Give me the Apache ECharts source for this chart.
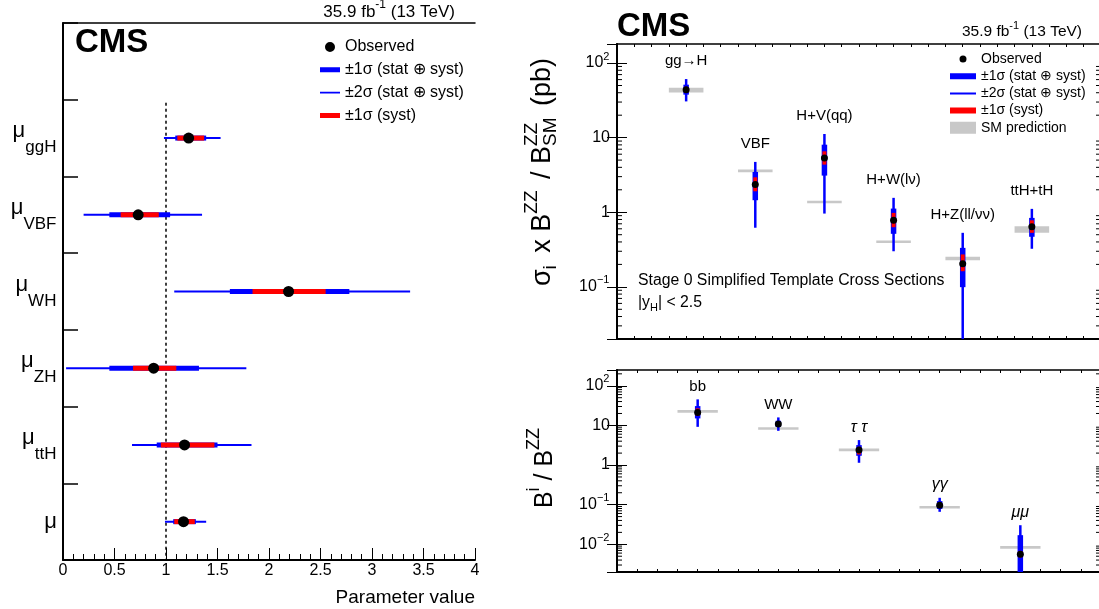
<!DOCTYPE html>
<html lang="en">
<head>
  <meta charset="utf-8">
  <title>CMS H to ZZ to 4l: signal strengths and cross sections</title>
  <script src="https://cdn.jsdelivr.net/npm/echarts@6/dist/echarts.min.js"></script>
  <style>
    html, body { margin: 0; padding: 0; background: #fff; }
    #main { width: 1099px; height: 609px; }
  </style>
</head>
<body>
<div id="main"></div>
<script>
  // ---- left panel: signal strength modifiers (row order top to bottom)
  var muLabels = ['μ_ggH', 'μ_VBF', 'μ_WH', 'μ_ZH', 'μ_ttH', 'μ'];
  var muBest   = [1.22, 0.73, 2.19, 0.88, 1.18, 1.17];
  var mu2Lo    = [0.98, 0.20, 1.08, 0.03, 0.67, 0.99];
  var mu2Hi    = [1.53, 1.35, 3.37, 1.78, 1.83, 1.39];
  var mu1Lo    = [1.09, 0.45, 1.62, 0.45, 0.91, 1.07];
  var mu1Hi    = [1.39, 1.04, 2.78, 1.32, 1.50, 1.29];
  var muSysLo  = [1.11, 0.56, 1.84, 0.68, 0.95, 1.08];
  var muSysHi  = [1.37, 0.93, 2.55, 1.10, 1.47, 1.28];

  // ---- top right: stage 0 STXS, sigma x B(ZZ)/B_SM(ZZ) in pb
  var stxsNames = ['gg→H', 'VBF', 'H+V(qq)', 'H+W(lν)', 'H+Z(ll/νν)', 'ttH+tH'];
  var stxsObs   = [44, 2.35, 5.35, 0.78, 0.204, 0.638];
  var stxs2Lo   = [30.6, 0.62, 0.96, 0.30, 0.005, 0.324];
  var stxs2Hi   = [61, 4.73, 11.2, 1.56, 0.53, 1.11];
  var stxs1Lo   = [37.7, 1.45, 3.1, 0.514, 0.099, 0.469];
  var stxs1Hi   = [51.3, 3.47, 8.05, 1.12, 0.333, 0.84];
  var stxsSysLo = [40, 1.91, 4.35, 0.63, 0.162, 0.53];
  var stxsSysHi = [48, 2.94, 6.56, 0.98, 0.272, 0.78];
  var stxsSmLo  = [40.4, 3.44, 1.32, 0.389, 0.228, 0.53];
  var stxsSmHi  = [46.7, 3.73, 1.42, 0.418, 0.253, 0.65];

  // ---- bottom right: branching fraction ratios B^i / B^ZZ
  var brNames = ['bb', 'WW', 'τ τ', 'γγ', 'μμ'];
  var brObs   = [21.3, 10.8, 2.38, 0.097, 0.0056];
  var br2Lo   = [9.2, 7.3, 1.14, 0.066, 0.0005];
  var br2Hi   = [45.4, 15.9, 4.26, 0.149, 0.0303];
  var br1Lo   = [15, 9.2, 1.71, 0.078, 0.0005];
  var br1Hi   = [30.7, 13.1, 3.18, 0.123, 0.017];
  var brSysLo = [17.5, 9.8, 1.85, 0.088, 0.0047];
  var brSysHi = [26.9, 11.9, 2.88, 0.107, 0.0068];
  var brSmLo  = [20.8, 7.9, 2.24, 0.080, 0.0077];
  var brSmHi  = [24.3, 8.9, 2.62, 0.093, 0.009];

  var FONT = '"Liberation Sans", Arial, Helvetica, sans-serif';
  var BLUE = '#0000ff', RED = '#ff0000', GREY = '#c8c8c8';
  var N_OBS = 'Observed', N_1S = '±1σ (stat ⊕ syst)', N_2S = '±2σ (stat ⊕ syst)',
      N_SYS = '±1σ (syst)', N_SM = 'SM prediction';

  // ---- little latex-like text runs (sub/superscripts) for graphic texts
  var mctx = document.createElement('canvas').getContext('2d');
  function measure(s, size, weight) {
    mctx.font = (weight || 'normal') + ' ' + size + 'px ' + FONT;
    return mctx.measureText(s).width;
  }
  function piece(s, x, y, size, weight) {
    return { type: 'text', x: x, y: y, silent: true,
      style: { text: s, fontSize: size, fontFamily: FONT, fontWeight: weight || 'normal',
               fill: '#000', align: 'left', verticalAlign: 'middle' } };
  }
  // parts: plain strings, numbers (extra gap in px) or {sup, sub}
  function latex(parts, size, x, y, opt) {
    opt = opt || {};
    var kids = [], cx = 0, small = Math.round(size * 0.7);
    parts.forEach(function (p) {
      if (typeof p === 'number') { cx += p; return; }
      if (typeof p === 'string') {
        kids.push(piece(p, cx, 0, size, opt.weight));
        cx += measure(p, size, opt.weight);
        return;
      }
      var w = 0;
      if (p.sup) { kids.push(piece(p.sup, cx, -size * 0.42, small)); w = Math.max(w, measure(p.sup, small)); }
      if (p.sub) { kids.push(piece(p.sub, cx, size * 0.3, small)); w = Math.max(w, measure(p.sub, small)); }
      cx += w;
    });
    var shift = opt.align === 'center' ? -cx / 2 : (opt.align === 'right' ? -cx : 0);
    kids.forEach(function (k) { k.x += shift; });
    return { type: 'group', x: x, y: y, rotation: opt.rotation || 0, silent: true, children: kids };
  }

  // ---- render helpers
  function hBar(h, color) {
    return function (params, api) {
      var a = api.coord([api.value(0), api.value(2)]);
      var b = api.coord([api.value(1), api.value(2)]);
      return { type: 'rect', shape: { x: a[0], y: a[1] - h / 2, width: b[0] - a[0], height: h },
               style: { fill: color } };
    };
  }
  function vBar(w, color) {
    return function (params, api) {
      var cs = params.coordSys;
      var top = api.coord([api.value(0), api.value(2)]);
      var bot = api.coord([api.value(0), api.value(1)]);
      var y1 = Math.max(top[1], cs.y), y2 = Math.min(bot[1], cs.y + cs.height);
      return { type: 'rect', shape: { x: top[0] - w / 2, y: y1, width: w, height: y2 - y1 },
               style: { fill: color } };
    };
  }
  function smBand(params, api) {
    var x = api.value(0);
    var a = api.coord([x - 0.25, api.value(2)]);
    var b = api.coord([x + 0.25, api.value(1)]);
    var h = Math.max(b[1] - a[1], 2.5), cy = (a[1] + b[1]) / 2;
    return { type: 'rect', shape: { x: a[0], y: cy - h / 2, width: b[0] - a[0], height: h },
             style: { fill: GREY } };
  }
  function procLabel(names, lift) {
    return function (params, api) {
      var p = api.coord([api.value(0), api.value(1)]);
      var t = names[params.dataIndex];
      var greek = /[τγμ]/.test(t);
      return { type: 'text', x: p[0], y: p[1] - lift,
        style: { text: t, fontSize: greek ? 16 : 15, fontFamily: FONT, fill: '#000',
                 fontStyle: greek ? 'italic' : 'normal',
                 align: 'center', verticalAlign: 'middle' } };
    };
  }
  function minorTick(params, api) {
    var cs = params.coordSys;
    var y = api.coord([0, api.value(1)])[1];
    if (y < cs.y || y > cs.y + cs.height) return null;
    var st = { stroke: '#000', lineWidth: 1 };
    return { type: 'group', children: [
      { type: 'line', shape: { x1: cs.x, y1: y, x2: cs.x + 5, y2: y }, style: st },
      { type: 'line', shape: { x1: cs.x + cs.width - 5, y1: y, x2: cs.x + cs.width, y2: y }, style: st }
    ] };
  }
  function refLine(params, api) {
    var band = api.size([0, 1])[1];
    var a = api.coord([api.value(0), 1]);
    var b = api.coord([api.value(0), muLabels.length]);
    return { type: 'line', shape: { x1: a[0], y1: a[1] - band / 2 + 3, x2: b[0], y2: b[1] + band / 2 },
             style: { stroke: '#000', lineWidth: 1.5, lineDash: [3, 3] } };
  }

  function rowData(lo, hi) { return lo.map(function (v, i) { return [v, hi[i], i + 1]; }); }
  function colData(lo, hi) { return lo.map(function (v, i) { return [i + 1, v, hi[i]]; }); }
  function logMinors(lo, hi) {
    var out = [];
    for (var e = -4; e <= 3; e++) {
      for (var m = 2; m <= 9; m++) {
        var v = m * Math.pow(10, e);
        if (v > lo && v < hi) out.push([0, v]);
      }
    }
    return out;
  }
  function powLabel(v) {
    var e = Math.log10(v), r = Math.round(e);
    if (Math.abs(e - r) > 1e-6) return '';
    if (r === 0) return '1';
    if (r === 1) return '10';
    return '10{sup|' + (r < 0 ? '−' : '') + Math.abs(r) + '}{sp| }';
  }
  var powRich = { sup: { fontSize: 11, lineHeight: 11, verticalAlign: 'top', fontFamily: FONT },
                  sp: { fontSize: 2, lineHeight: 24 } };

  function frameX(grid, max, bottom) {
    return { gridIndex: grid, type: 'value', min: 0, max: max, interval: 0.25,
      position: bottom ? 'bottom' : 'top',
      axisLine: { show: true, onZero: false, lineStyle: { color: '#000', width: bottom ? 2 : 1.5 } },
      axisTick: { show: true, inside: true, length: 3, lineStyle: { color: '#000' } },
      axisLabel: { show: false }, splitLine: { show: false } };
  }
  function logY(grid, min, max, right) {
    return { gridIndex: grid, type: 'log', min: min, max: max, position: right ? 'right' : 'left',
      axisLine: { show: true, lineStyle: { color: '#000', width: right ? 1.5 : 2 } },
      axisTick: { show: true, inside: true, length: 10, lineStyle: { color: '#000' } },
      axisLabel: { show: !right, formatter: powLabel, rich: powRich, fontSize: 16, color: '#000',
                   margin: 7, showMinLabel: false, showMaxLabel: false },
      splitLine: { show: false } };
  }

  // legend icons drawn inside a fixed invisible box so that proportions survive scaling
  function icon(w, h, body) { return 'path://M0,0L0.01,0M' + w + ',' + h + 'L' + (w - 0.01) + ',' + h + body; }
  function barIcon(w, h, t) { var y = (h - t) / 2; return icon(w, h, 'M0,' + y + 'L' + w + ',' + y + 'L' + w + ',' + (y + t) + 'L0,' + (y + t) + 'Z'); }
  function dotIcon(w, h, r) { var cx = w / 2, cy = h / 2; return icon(w, h, 'M' + (cx - r) + ',' + cy + 'A' + r + ',' + r + ',0,1,1,' + (cx + r) + ',' + cy + 'A' + r + ',' + r + ',0,1,1,' + (cx - r) + ',' + cy + 'Z'); }

  var myChart = echarts.init(document.getElementById('main'));

  var dotStyle = { color: '#000', opacity: 1, borderWidth: 0 };

  var option = {
    animation: false,
    backgroundColor: '#fff',
    textStyle: { fontFamily: FONT, color: '#000' },
    grid: [
      { left: 63, top: 23, width: 412, height: 537, outerBoundsMode: 'none' },
      { left: 617, top: 44, width: 484, height: 295, outerBoundsMode: 'none' },
      { left: 617, top: 370, width: 484, height: 202, outerBoundsMode: 'none' }
    ],
    legend: [
      { left: 320, top: 39, padding: 0, orient: 'vertical', itemWidth: 20, itemHeight: 10, itemGap: 6.8,
        selectedMode: false, textStyle: { fontSize: 16, lineHeight: 16, color: '#000' },
        data: [
          { name: N_OBS, icon: dotIcon(20, 10, 5), itemStyle: dotStyle },
          { name: N_1S, icon: barIcon(20, 10, 5), itemStyle: { color: BLUE, borderWidth: 0 } },
          { name: N_2S, icon: barIcon(20, 10, 1.6), itemStyle: { color: BLUE, borderWidth: 0 } },
          { name: N_SYS, icon: barIcon(20, 10, 5), itemStyle: { color: RED, borderWidth: 0 } }
        ] },
      { left: 950, top: 52, padding: 0, orient: 'vertical', itemWidth: 26, itemHeight: 12, itemGap: 3.2,
        selectedMode: false, textStyle: { fontSize: 14, lineHeight: 14, color: '#000' },
        data: [
          { name: N_OBS, icon: dotIcon(26, 12, 3.5), itemStyle: dotStyle },
          { name: N_1S, icon: barIcon(26, 12, 6), itemStyle: { color: BLUE, borderWidth: 0 } },
          { name: N_2S, icon: barIcon(26, 12, 2), itemStyle: { color: BLUE, borderWidth: 0 } },
          { name: N_SYS, icon: barIcon(26, 12, 6), itemStyle: { color: RED, borderWidth: 0 } },
          { name: N_SM, icon: barIcon(26, 12, 12), itemStyle: { color: GREY, borderWidth: 0 } }
        ] }
    ],
    xAxis: [
      { gridIndex: 0, type: 'value', min: 0, max: 4, interval: 0.5,
        name: 'Parameter value', nameLocation: 'end', nameGap: 0,
        nameTextStyle: { fontSize: 19, color: '#000', align: 'right', verticalAlign: 'top', padding: [28, 0, 0, 0] },
        axisLine: { show: true, onZero: false, lineStyle: { color: '#000', width: 2 } },
        axisTick: { show: true, inside: true, length: 12, lineStyle: { color: '#000' } },
        minorTick: { show: true, splitNumber: 5, length: 6, lineStyle: { color: '#000' } },
        axisLabel: { fontSize: 16, color: '#000', margin: 3 },
        splitLine: { show: false }, minorSplitLine: { show: false } },
      { gridIndex: 0, type: 'value', min: 0, max: 4, position: 'top',
        axisLine: { show: true, onZero: false, lineStyle: { color: '#000', width: 1.5 } },
        axisTick: { show: false }, axisLabel: { show: false }, splitLine: { show: false } },
      frameX(1, 7, true), frameX(1, 7, false),
      frameX(2, 6, true), frameX(2, 6, false)
    ],
    yAxis: [
      { gridIndex: 0, type: 'category', inverse: true, data: [' '].concat(muLabels),
        axisLine: { show: true, onZero: false, lineStyle: { color: '#000', width: 2 } },
        axisTick: { show: true, inside: true, length: 15, lineStyle: { color: '#000', width: 1.5 } },
        axisLabel: { margin: 6, color: '#000',
          formatter: function (v) {
            var p = v.split('_');
            return p.length > 1 ? '{mu|' + p[0] + '}{sub|' + p[1] + '}{sp| }' : '{mu|' + v + '}';
          },
          rich: { mu: { fontSize: 22, lineHeight: 22, verticalAlign: 'top', fontFamily: FONT },
                  sub: { fontSize: 17, lineHeight: 17, verticalAlign: 'bottom', fontFamily: FONT },
                  sp: { fontSize: 2, lineHeight: 36 } } },
        splitLine: { show: false } },
      logY(1, 0.02, 180, false), logY(1, 0.02, 180, true),
      logY(2, 0.002, 250, false), logY(2, 0.002, 250, true)
    ],
    series: [
      // left panel
      { type: 'custom', silent: true, xAxisIndex: 0, yAxisIndex: 0, data: [[1]], renderItem: refLine, z: 1 },
      { name: N_2S, type: 'custom', xAxisIndex: 0, yAxisIndex: 0, encode: { x: [0, 1], y: 2 },
        itemStyle: { color: BLUE }, data: rowData(mu2Lo, mu2Hi), renderItem: hBar(2, BLUE), z: 2 },
      { name: N_1S, type: 'custom', xAxisIndex: 0, yAxisIndex: 0, encode: { x: [0, 1], y: 2 },
        itemStyle: { color: BLUE }, data: rowData(mu1Lo, mu1Hi), renderItem: hBar(5, BLUE), z: 3 },
      { name: N_SYS, type: 'custom', xAxisIndex: 0, yAxisIndex: 0, encode: { x: [0, 1], y: 2 },
        itemStyle: { color: RED }, data: rowData(muSysLo, muSysHi), renderItem: hBar(5, RED), z: 4 },
      { name: N_OBS, type: 'scatter', xAxisIndex: 0, yAxisIndex: 0, symbolSize: 11,
        itemStyle: dotStyle, z: 5,
        data: muBest.map(function (v, i) { return [v, i + 1]; }) },

      // top right panel
      { type: 'custom', silent: true, xAxisIndex: 2, yAxisIndex: 1, data: logMinors(0.02, 180), renderItem: minorTick },
      { name: N_SM, type: 'custom', xAxisIndex: 2, yAxisIndex: 1, encode: { x: 0, y: [1, 2] },
        itemStyle: { color: GREY }, data: colData(stxsSmLo, stxsSmHi), renderItem: smBand, z: 1 },
      { name: N_2S, type: 'custom', xAxisIndex: 2, yAxisIndex: 1, encode: { x: 0, y: [1, 2] },
        itemStyle: { color: BLUE }, data: colData(stxs2Lo, stxs2Hi), renderItem: vBar(2.5, BLUE), z: 2 },
      { name: N_1S, type: 'custom', xAxisIndex: 2, yAxisIndex: 1, encode: { x: 0, y: [1, 2] },
        itemStyle: { color: BLUE }, data: colData(stxs1Lo, stxs1Hi), renderItem: vBar(5.5, BLUE), z: 3 },
      { name: N_SYS, type: 'custom', xAxisIndex: 2, yAxisIndex: 1, encode: { x: 0, y: [1, 2] },
        itemStyle: { color: RED }, data: colData(stxsSysLo, stxsSysHi), renderItem: vBar(4, RED), z: 4 },
      { name: N_OBS, type: 'scatter', xAxisIndex: 2, yAxisIndex: 1, symbolSize: 7,
        itemStyle: dotStyle, z: 5,
        data: stxsObs.map(function (v, i) { return [i + 1, v]; }) },
      { type: 'custom', silent: true, xAxisIndex: 2, yAxisIndex: 1, renderItem: procLabel(stxsNames, 18),
        data: stxs2Hi.map(function (v, i) { return [i + 1, v]; }), z: 6 },

      // bottom right panel
      { type: 'custom', silent: true, xAxisIndex: 4, yAxisIndex: 3, data: logMinors(0.002, 250), renderItem: minorTick },
      { name: N_SM, type: 'custom', xAxisIndex: 4, yAxisIndex: 3, encode: { x: 0, y: [1, 2] },
        itemStyle: { color: GREY }, data: colData(brSmLo, brSmHi), renderItem: smBand, z: 1 },
      { name: N_2S, type: 'custom', xAxisIndex: 4, yAxisIndex: 3, encode: { x: 0, y: [1, 2] },
        itemStyle: { color: BLUE }, data: colData(br2Lo, br2Hi), renderItem: vBar(2.5, BLUE), z: 2 },
      { name: N_1S, type: 'custom', xAxisIndex: 4, yAxisIndex: 3, encode: { x: 0, y: [1, 2] },
        itemStyle: { color: BLUE }, data: colData(br1Lo, br1Hi), renderItem: vBar(5.5, BLUE), z: 3 },
      { name: N_SYS, type: 'custom', xAxisIndex: 4, yAxisIndex: 3, encode: { x: 0, y: [1, 2] },
        itemStyle: { color: RED }, data: colData(brSysLo, brSysHi), renderItem: vBar(4, RED), z: 4 },
      { name: N_OBS, type: 'scatter', xAxisIndex: 4, yAxisIndex: 3, symbolSize: 7,
        itemStyle: dotStyle, z: 5,
        data: brObs.map(function (v, i) { return [i + 1, v]; }) },
      { type: 'custom', silent: true, xAxisIndex: 4, yAxisIndex: 3, renderItem: procLabel(brNames, 13),
        data: br2Hi.map(function (v, i) { return [i + 1, v]; }), z: 6 }
    ],
    graphic: [
      latex(['CMS'], 33, 75, 43, { weight: 'bold' }),
      latex(['35.9 fb', { sup: '-1' }, ' (13 TeV)'], 17, 455, 12, { align: 'right' }),
      latex(['CMS'], 33, 617, 27, { weight: 'bold' }),
      latex(['35.9 fb', { sup: '-1' }, ' (13 TeV)'], 15.5, 1082, 32, { align: 'right' }),
      latex(['Stage 0 Simplified Template Cross Sections'], 15.8, 638, 281),
      latex(['|y', { sub: 'H' }, '| < 2.5'], 15.8, 638, 303),
      latex(['σ', { sub: 'i' }, 5, ' x ', 'B', { sup: 'ZZ' }, 4, ' / ', 'B', { sup: 'ZZ', sub: 'SM' }, 4, ' (pb)'], 27, 543, 172,
            { align: 'center', rotation: Math.PI / 2 }),
      latex(['B', { sup: 'i' }, ' / B', { sup: 'ZZ' }], 25, 545, 468, { align: 'center', rotation: Math.PI / 2 })
    ]
  };

  myChart.setOption(option);
</script>
</body>
</html>
